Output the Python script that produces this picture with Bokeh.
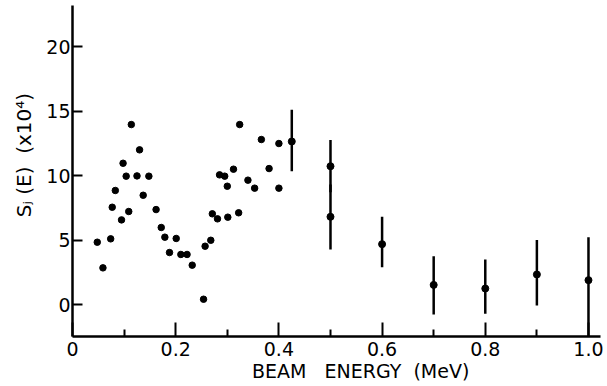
from bokeh.plotting import figure
from bokeh.models import Range1d, FixedTicker, ColumnDataSource
from bokeh.embed import file_html
from bokeh.resources import INLINE

# ---- data ----
x_pts = [0.048, 0.059, 0.074, 0.077, 0.083, 0.095, 0.098, 0.104, 0.109, 0.114,
         0.125, 0.130, 0.137, 0.148, 0.162, 0.172, 0.179, 0.188, 0.201, 0.210,
         0.222, 0.232, 0.254, 0.257, 0.268, 0.271, 0.281, 0.285, 0.295, 0.300,
         0.301, 0.312, 0.322, 0.324, 0.340, 0.353, 0.366, 0.381, 0.400, 0.400]
y_pts = [4.83, 2.84, 5.09, 7.54, 8.84, 6.56, 10.95, 9.95, 7.21, 13.95,
         9.97, 11.99, 8.47, 9.95, 7.36, 5.97, 5.22, 4.03, 5.12, 3.88,
         3.88, 3.05, 0.41, 4.52, 4.98, 7.03, 6.64, 10.05, 9.95, 9.17,
         6.77, 10.49, 7.11, 13.95, 9.64, 9.02, 12.79, 10.54, 12.48, 9.02]

err_x = [0.425, 0.500, 0.500, 0.600, 0.700, 0.800, 0.900, 1.000]
err_y = [12.64, 10.72, 6.80, 4.68, 1.52, 1.24, 2.33, 1.89]
err_lo = [10.33, 8.70, 4.26, 2.89, -0.78, -0.72, -0.08, -2.60]
err_hi = [15.09, 12.76, 9.30, 6.80, 3.75, 3.49, 5.01, 5.22]

x_ticks = [0, 0.2, 0.4, 0.6, 0.8, 1.0]
x_tick_labels = ["0", "0.2", "0.4", "0.6", "0.8", "1.0"]
x_minor_ticks = [0.1, 0.3, 0.5, 0.7, 0.9]
y_ticks = [0, 5, 10, 15, 20]

NB = "\u00a0"
x_title = NB * 8 + "BEAM" + NB * 3 + "ENERGY" + NB * 2 + "(MeV)"
y_title = NB * 5 + "S\u2c7c" + NB + "(E)" + NB * 2 + "(x10\u2074)"

# ---- layout ----
X0, X1 = 0.0, 1.0233
Y0, Y1 = -2.48, 23.18
FW, FH = 528, 331
LEFT, RIGHT, TOP, BOTTOM = 72, 7, 5, 50
FONT = "DejaVu Sans"

p = figure(frame_width=FW, frame_height=FH,
           x_range=Range1d(X0, X1), y_range=Range1d(Y0, Y1),
           output_backend="svg", toolbar_location=None,
           min_border_left=LEFT, min_border_right=RIGHT,
           min_border_top=TOP, min_border_bottom=BOTTOM,
           background_fill_color="white", border_fill_color="white")
p.outline_line_color = None
p.grid.visible = False

# axes
xa = p.xaxis[0]
xa.ticker = FixedTicker(ticks=x_ticks, minor_ticks=x_minor_ticks)
xa.major_label_overrides = dict(zip(x_ticks, x_tick_labels))
ya = p.yaxis[0]
ya.ticker = FixedTicker(ticks=y_ticks, minor_ticks=[])
for ax in (xa, ya):
    ax.axis_line_width = 2.5
    ax.axis_line_color = "black"
    ax.major_tick_line_width = 2
    ax.minor_tick_line_width = 2
    ax.major_tick_line_color = "black"
    ax.minor_tick_line_color = "black"
    ax.major_tick_out = 0
    ax.minor_tick_out = 0
    ax.major_label_text_font = FONT
    ax.major_label_text_font_size = "19px"
    ax.major_label_text_color = "black"
    ax.axis_label_text_font = FONT
    ax.axis_label_text_font_style = "normal"
    ax.axis_label_text_color = "black"
xa.major_tick_in = 14
xa.minor_tick_in = 7
xa.major_label_standoff = 5
xa.axis_label = x_title
xa.axis_label_standoff = 1
xa.axis_label_text_font_size = "19px"
ya.major_tick_in = 10
ya.minor_tick_in = 0
ya.minor_tick_line_color = None
ya.major_label_standoff = 2
ya.axis_label = y_title
ya.axis_label_standoff = 7
ya.axis_label_text_font_size = "20px"

# error bars
err_src = ColumnDataSource(dict(x=err_x, y=err_y, lo=err_lo, hi=err_hi))
p.segment(x0="x", y0="lo", x1="x", y1="hi", source=err_src,
          line_width=2.5, line_color="black")
p.scatter(x="x", y="y", source=err_src, size=7, color="black")

# points
p.scatter(x_pts, y_pts, size=6.5, color="black")

open("out.html", "w").write(file_html(p, INLINE))
